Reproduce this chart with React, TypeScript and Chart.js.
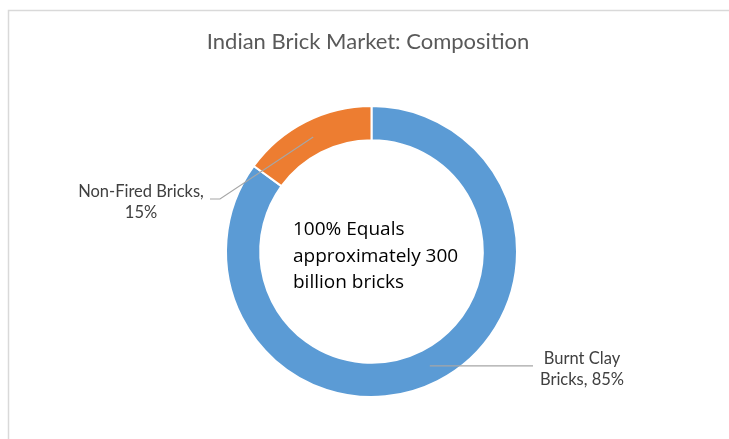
import React, { useEffect, useRef } from "react";
import { Chart, registerables } from "chart.js";

Chart.register(...registerables);

const TITLE = "Indian Brick Market: Composition";
const categories = ["Burnt Clay Bricks", "Non-Fired Bricks"];
const values = [85, 15];
const colors = ["#5B9BD5", "#ED7D31"];
const labelLines = [["Burnt Clay", "Bricks, 85%"], ["Non-Fired Bricks,", "15%"]];
const centerLines = ["100% Equals", "approximately 300", "billion bricks"];

const LABEL_FONT = "16.5px Lato, 'Open Sans', sans-serif";
const TITLE_FONT = "22px Lato, 'Open Sans', sans-serif";
const CENTER_FONT = "19px 'Open Sans', Carlito, sans-serif";

const overlay = {
  id: "overlay",
  beforeDraw(chart: any) {
    const ctx = chart.ctx;
    ctx.save();
    ctx.fillStyle = "#ffffff";
    ctx.fillRect(0, 0, chart.width, chart.height);
    ctx.strokeStyle = "#d9d9d9";
    ctx.lineWidth = 1.5;
    ctx.beginPath();
    ctx.moveTo(8.5, chart.height);
    ctx.lineTo(8.5, 10.5);
    ctx.lineTo(chart.width, 10.5);
    ctx.stroke();
    ctx.restore();
  },
  afterDraw(chart: any) {
    const ctx = chart.ctx;
    const meta = chart.getDatasetMeta(0);
    ctx.save();
    ctx.textBaseline = "alphabetic";
    // title
    ctx.fillStyle = "#595959";
    ctx.font = TITLE_FONT;
    ctx.textAlign = "center";
    ctx.fillText(TITLE, 368, 49);

    // center text
    ctx.fillStyle = "#000000";
    ctx.font = CENTER_FONT;
    ctx.textAlign = "left";
    centerLines.forEach((l, i) => ctx.fillText(l, 293, 235 + i * 26.5));

    // data labels with leader lines
    const anchors = [
      { lx: 533, ly: null as number | null, tx: 582, ty: 364, gap: 21 },
      { lx: 220, ly: 199 as number | null, tx: 141, ty: 197, gap: 20.5, hx: 210 },
    ];
    meta.data.forEach((arc: any, i: number) => {
      const p = arc.tooltipPosition();
      const a: any = anchors[i];
      ctx.strokeStyle = "#a6a6a6";
      ctx.lineWidth = 1.2;
      ctx.beginPath();
      ctx.moveTo(p.x, p.y);
      if (a.ly === null) {
        ctx.lineTo(a.lx, p.y);
      } else {
        ctx.lineTo(a.lx, a.ly);
        ctx.lineTo(a.hx, a.ly);
      }
      ctx.stroke();
      ctx.fillStyle = "#404040";
      ctx.font = LABEL_FONT;
      ctx.textAlign = "center";
      labelLines[i].forEach((l, j) => ctx.fillText(l, a.tx, a.ty + j * a.gap));
    });
    ctx.restore();
  },
};

export default function App() {
  const ref = useRef<HTMLCanvasElement>(null);
  useEffect(() => {
    const chart = new Chart(ref.current!, {
      type: "doughnut",
      data: {
        labels: categories,
        datasets: [
          {
            data: values,
            backgroundColor: colors,
            borderColor: "#ffffff",
            borderWidth: 2,
          },
        ],
      },
      options: {
        animation: false,
        responsive: true,
        maintainAspectRatio: false,
        cutout: "76.5%",
        layout: { padding: { top: 105, bottom: 41, left: 225, right: 211 } },
        plugins: { legend: { display: false }, tooltip: { enabled: false }, title: { display: false } },
      },
      plugins: [overlay],
    });
    return () => chart.destroy();
  }, []);
  return (
    <div style={{ position: "fixed", left: 0, top: 0, width: 729, height: 439 }}>
      <canvas ref={ref} />
    </div>
  );
}
